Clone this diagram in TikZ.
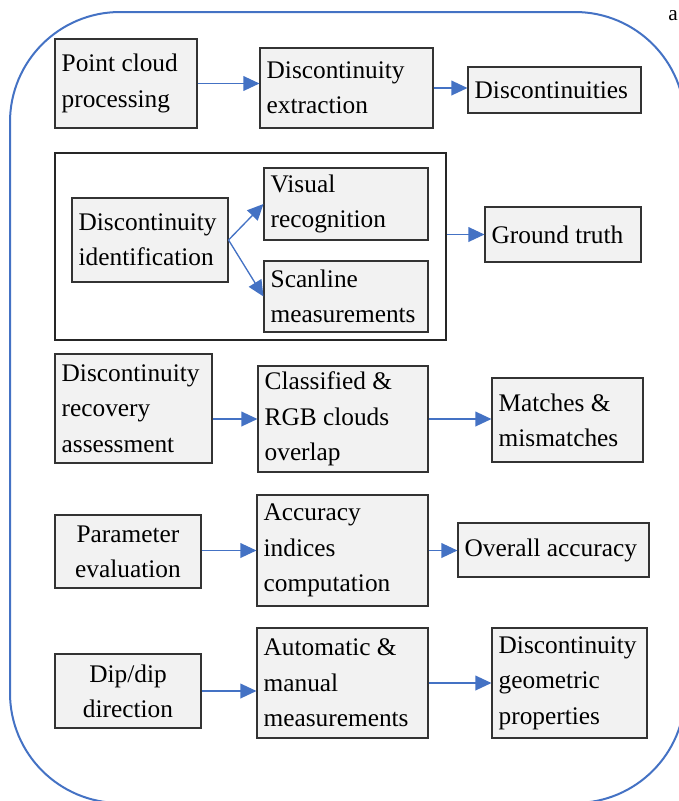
\documentclass[tikz,border=0pt]{standalone}
\usepackage{fontspec}
\setmainfont{Liberation Serif}
\usetikzlibrary{arrows.meta}
\definecolor{flowblue}{HTML}{4472C4}

\begin{document}
\begin{tikzpicture}[x=0.75pt, y=-0.75pt,
	box/.style={draw=black!80, line width=0.8pt, fill=black!5, align=flush left,
		inner xsep=5pt, inner ysep=0pt, font=\fontsize{19}{26.5}\selectfont},
	flow/.style={draw=flowblue, line width=1pt, -{Triangle[length=12pt,width=11pt]}}]
\useasboundingbox (0,0) rectangle (679,801);
\draw [flowblue, line width=1.5pt, rounded corners=82.5pt] (10,12) rectangle (685,803);
\node [font=\fontsize{16}{18}\selectfont] (lbl) at (673,16) {a};

\node [box, minimum width=106.5pt, minimum height=66.75pt, text width=96.5pt] (pcp) at (126,83.5) {Point cloud\\processing};
\node [box, minimum width=129.75pt, minimum height=60pt, text width=119.75pt] (dex) at (346.5,88) {Discontinuity\\extraction};
\node [box, minimum width=129.75pt, minimum height=34.5pt, text width=119.75pt] (dis) at (554.5,90) {Discontinuities};
\draw [flow] (pcp.east) -- (pcp.east -| dex.west);
\draw [flow] (dex.east) -- (dex.east -| dis.west);

\node [draw=black!85, line width=0.8pt, minimum width=293.25pt, minimum height=140.25pt] (frame) at (250.5,246.5) {};
\node [box, minimum width=117pt, minimum height=63pt, text width=107pt] (did) at (150,240) {Discontinuity\\identification};
\node [box, minimum width=123pt, minimum height=54pt, text width=113pt] (vis) at (346,204) {Visual\\recognition};
\node [box, minimum width=123pt, minimum height=53.25pt, text width=113pt] (scl) at (346,296.5) {Scanline\\measurements};
\node [box, minimum width=117pt, minimum height=41.25pt, text width=107pt] (gt) at (563,234.5) {Ground truth};
\draw [flow] (did.east) -- (vis.west);
\draw [flow] (did.east) -- (scl.west);
\draw [flow] (frame.east |- gt.west) -- (gt.west);

\node [box, minimum width=117.75pt, minimum height=81.75pt, text width=107.75pt] (dra) at (133.5,408.5) {Discontinuity\\recovery\\assessment};
\node [box, minimum width=127.5pt, minimum height=79.5pt, text width=117.5pt] (cls) at (343,419) {Classified \&\\RGB clouds\\overlap};
\node [box, minimum width=113.25pt, minimum height=63pt, text width=103.25pt] (mat) at (567.5,420) {Matches \&\\mismatches};
\draw [flow] (dra.east |- cls.west) -- (cls.west);
\draw [flow] (cls.east) -- (cls.east -| mat.west);

\node [box, align=center, minimum width=109.5pt, minimum height=54.75pt, text width=99.5pt] (par) at (128,551.5) {Parameter\\evaluation};
\node [box, minimum width=128.25pt, minimum height=83.25pt, text width=118.25pt] (acc) at (342.5,550.5) {Accuracy\\indices\\computation};
\node [box, minimum width=143.25pt, minimum height=40.5pt, text width=133.25pt] (ova) at (553.5,550) {Overall accuracy};
\draw [flow] (par.east |- acc.west) -- (acc.west);
\draw [flow] (acc.east) -- (acc.east -| ova.west);

\node [box, align=center, minimum width=109.5pt, minimum height=55.5pt, text width=99.5pt] (dip) at (128,691) {Dip/dip\\direction};
\node [box, minimum width=128.25pt, minimum height=82.5pt, text width=118.25pt] (aut) at (342.5,683) {Automatic \&\\manual\\measurements};
\node [box, minimum width=116.25pt, minimum height=82.5pt, text width=106.25pt] (geo) at (569.5,683) {Discontinuity\\geometric\\properties};
\draw [flow] (dip.east) -- (dip.east -| aut.west);
\draw [flow] (aut.east) -- (geo.west);
\end{tikzpicture}
\end{document}
